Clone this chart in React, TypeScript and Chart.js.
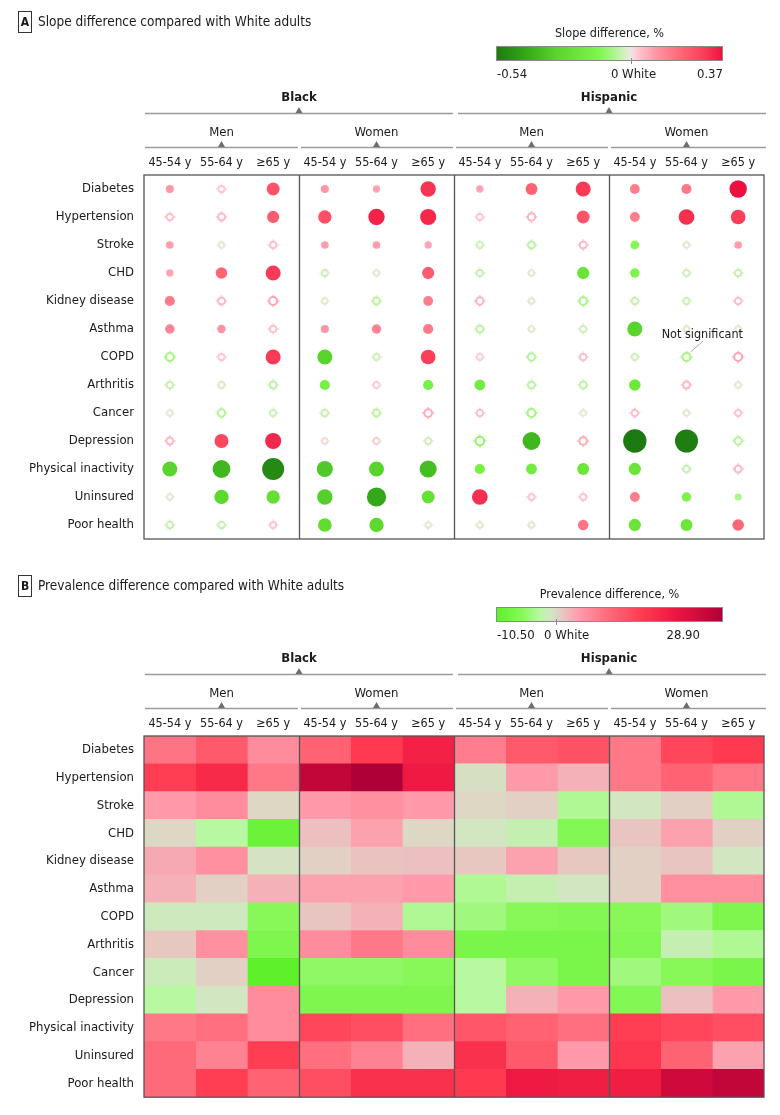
import React, { useEffect, useRef } from 'react';
import { Chart, registerables } from 'chart.js';

Chart.register(...registerables);

const FONT = "'DejaVu Sans Condensed', 'Liberation Sans Narrow', 'Roboto Condensed', Roboto, sans-serif";

const conditions = ['Diabetes', 'Hypertension', 'Stroke', 'CHD', 'Kidney disease', 'Asthma', 'COPD', 'Arthritis', 'Cancer', 'Depression', 'Physical inactivity', 'Uninsured', 'Poor health'];
const races = ['Black', 'Hispanic'];
const sexes = ['Men', 'Women', 'Men', 'Women'];
const ageGroups = ['45-54 y', '55-64 y', '≥65 y'];

// Panel A: slope difference (%), columns BM45, BM55, BM65, BW45, BW55, BW65, HM45, HM55, HM65, HW45, HW55, HW65
const slopeDiabetes = [0.10, 0.03, 0.24, 0.10, 0.08, 0.31, 0.08, 0.21, 0.30, 0.15, 0.16, 0.37];
const slopeHypertension = [0.04, 0.05, 0.22, 0.25, 0.34, 0.33, 0.03, 0.06, 0.24, 0.15, 0.32, 0.29];
const slopeStroke = [0.09, -0.01, 0.04, 0.09, 0.09, 0.08, -0.03, -0.05, 0.05, -0.12, -0.01, 0.09];
const slopeCHD = [0.08, 0.20, 0.30, -0.03, -0.01, 0.22, -0.04, -0.01, -0.22, -0.14, -0.03, -0.04];
const slopeKidney = [0.16, 0.05, 0.08, -0.01, -0.05, 0.15, 0.06, -0.01, -0.07, -0.04, -0.03, 0.04];
const slopeAsthma = [0.14, 0.11, 0.04, 0.10, 0.14, 0.16, -0.05, -0.01, -0.03, -0.30, -0.01, -0.01];
const slopeCOPD = [-0.08, 0.03, 0.30, -0.30, -0.03, 0.29, 0.02, -0.06, 0.04, -0.03, -0.08, 0.08];
const slopeArthritis = [-0.04, -0.02, -0.05, -0.16, 0.02, -0.16, -0.18, -0.05, -0.05, -0.20, 0.05, -0.01];
const slopeCancer = [-0.01, -0.06, -0.03, -0.04, -0.05, 0.07, 0.04, -0.08, -0.01, 0.04, -0.01, 0.03];
const slopeDepression = [0.05, 0.27, 0.33, 0.01, 0.02, -0.03, -0.10, -0.38, 0.07, -0.54, -0.53, -0.06];
const slopeInactivity = [-0.30, -0.38, -0.50, -0.33, -0.30, -0.36, -0.16, -0.18, -0.21, -0.22, -0.04, 0.05];
const slopeUninsured = [-0.01, -0.28, -0.25, -0.31, -0.42, -0.24, 0.32, 0.03, 0.03, 0.15, -0.14, -0.07];
const slopePoorHealth = [-0.04, -0.04, 0.03, -0.26, -0.28, -0.01, -0.01, -0.01, 0.17, -0.22, -0.21, 0.20];
const slopeRows = [slopeDiabetes, slopeHypertension, slopeStroke, slopeCHD, slopeKidney, slopeAsthma, slopeCOPD, slopeArthritis, slopeCancer, slopeDepression, slopeInactivity, slopeUninsured, slopePoorHealth];

// 1 = significant (filled), 0 = not significant (ring)
const sigDiabetes = [1, 0, 1, 1, 1, 1, 1, 1, 1, 1, 1, 1];
const sigHypertension = [0, 0, 1, 1, 1, 1, 0, 0, 1, 1, 1, 1];
const sigStroke = [1, 0, 0, 1, 1, 1, 0, 0, 0, 1, 0, 1];
const sigCHD = [1, 1, 1, 0, 0, 1, 0, 0, 1, 1, 0, 0];
const sigKidney = [1, 0, 0, 0, 0, 1, 0, 0, 0, 0, 0, 0];
const sigAsthma = [1, 1, 0, 1, 1, 1, 0, 0, 0, 1, 0, 0];
const sigCOPD = [0, 0, 1, 1, 0, 1, 0, 0, 0, 0, 0, 0];
const sigArthritis = [0, 0, 0, 1, 0, 1, 1, 0, 0, 1, 0, 0];
const sigCancer = [0, 0, 0, 0, 0, 0, 0, 0, 0, 0, 0, 0];
const sigDepression = [0, 1, 1, 0, 0, 0, 0, 1, 0, 1, 1, 0];
const sigInactivity = [1, 1, 1, 1, 1, 1, 1, 1, 1, 1, 0, 0];
const sigUninsured = [0, 1, 1, 1, 1, 1, 1, 0, 0, 1, 1, 1];
const sigPoorHealth = [0, 0, 0, 1, 1, 0, 0, 0, 1, 1, 1, 1];
const sigRows = [sigDiabetes, sigHypertension, sigStroke, sigCHD, sigKidney, sigAsthma, sigCOPD, sigArthritis, sigCancer, sigDepression, sigInactivity, sigUninsured, sigPoorHealth];

// Panel B: prevalence difference (%)
const prevDiabetes = [8, 11, 5.5, 10, 15, 19, 7, 11, 12, 7.5, 13.5, 15];
const prevHypertension = [14.5, 17.5, 7.5, 26.5, 28.9, 20, -0.5, 4, 2.5, 7.5, 10, 7.5];
const prevStroke = [4, 5.5, 0, 4, 5, 4, 0, 0.5, -3.5, -1, 0.5, -3.5];
const prevCHD = [0, -3, -9, 1.5, 3.5, 0, -1, -2, -6.5, 1.2, 3.5, 0.5];
const prevKidney = [3, 5, -0.8, 0.5, 1.3, 1.5, 1, 3.5, 1, 0.5, 1.2, -1];
const prevAsthma = [2.5, 0.5, 2.5, 3.5, 3.5, 4, -3.5, -2, -1, 0.5, 5, 5];
const prevCOPD = [-1.3, -1.3, -6, 1.2, 2.5, -3.5, -4.5, -6, -6.5, -6, -4.5, -7];
const prevArthritis = [1, 5, -7, 5.5, 7.5, 5.5, -7.5, -7.5, -7.5, -6.5, -2, -3.5];
const prevCancer = [-1.5, 0.5, -10.5, -5.5, -5.5, -6, -3, -5.5, -7.5, -4.5, -6, -7.5];
const prevDepression = [-3, -1, 5.5, -7, -7, -7, -3, 2.5, 4, -6.5, 1.5, 4];
const prevInactivity = [7.5, 8.5, 5.5, 13.5, 12.5, 8.5, 11.5, 10, 8.5, 14.5, 13.5, 12.5];
const prevUninsured = [9, 6.5, 14.5, 8.5, 6.5, 2.5, 16.5, 11, 4, 15.5, 10, 3.5];
const prevPoorHealth = [9, 14.5, 10, 12.5, 16.5, 16.5, 15, 20, 19.5, 19.5, 25, 26.5];
const prevRows = [prevDiabetes, prevHypertension, prevStroke, prevCHD, prevKidney, prevAsthma, prevCOPD, prevArthritis, prevCancer, prevDepression, prevInactivity, prevUninsured, prevPoorHealth];

const slopeMin = -0.54;
const slopeMax = 0.37;
const prevMin = -10.5;
const prevMax = 28.9;

type Stop = [number, string];
const slopeStops: Stop[] = [
  [-0.54, '#1d7a10'], [-0.42, '#34a818'], [-0.3, '#58d42c'], [-0.2, '#6ee83a'], [-0.12, '#80f850'],
  [-0.05, '#bdf3a4'], [0, '#ece8e0'], [0.03, '#ffc6d0'], [0.1, '#ff96a6'], [0.2, '#ff6676'], [0.3, '#fa3a56'], [0.37, '#ec1040'],
];
const prevStops: Stop[] = [
  [-10.5, '#5ef02a'], [-6, '#88f858'], [-3, '#b8f8a0'], [-1, '#d2e6c2'], [0, '#dcd8c4'], [1.5, '#ecc0c0'],
  [4, '#ff9aaa'], [9, '#ff6a7a'], [15, '#ff3a50'], [21, '#ec1440'], [28.9, '#b00038'],
];

function hexRgb(h: string) {
  return [parseInt(h.slice(1, 3), 16), parseInt(h.slice(3, 5), 16), parseInt(h.slice(5, 7), 16)];
}
function colorAt(stops: Stop[], v: number, alpha = 1) {
  let c = hexRgb(stops[0][1]);
  if (v >= stops[stops.length - 1][0]) c = hexRgb(stops[stops.length - 1][1]);
  else {
    for (let k = 1; k < stops.length; k++) {
      if (v <= stops[k][0]) {
        const a = hexRgb(stops[k - 1][1]);
        const b = hexRgb(stops[k][1]);
        const t = Math.max(0, Math.min(1, (v - stops[k - 1][0]) / (stops[k][0] - stops[k - 1][0])));
        c = [0, 1, 2].map((i) => Math.round(a[i] + (b[i] - a[i]) * t));
        break;
      }
    }
  }
  return `rgba(${c[0]},${c[1]},${c[2]},${alpha})`;
}
const radiusFor = (v: number) => 2.3 + 17.4 * Math.abs(v);

const TEXT = '#1a1a1a';
const LEG_L = 496;
const LEG_R = 723;

interface PanelCfg {
  letter: string;
  title: string;
  legendTitle: string;
  min: number;
  max: number;
  stops: Stop[];
  minLabel: string;
  maxLabel: string;
  maxLabelRight: number;
  zeroLabelLeft: number | null;
  titleY: number;
  note: boolean;
}

function tri(ctx: CanvasRenderingContext2D, cx: number, baseY: number) {
  ctx.beginPath();
  ctx.moveTo(cx - 3.5, baseY);
  ctx.lineTo(cx + 3.5, baseY);
  ctx.lineTo(cx, baseY - 6);
  ctx.closePath();
  ctx.fill();
}

function panelPlugin(cfg: PanelCfg) {
  return {
    id: 'panel' + cfg.letter,
    afterDatasetsDraw(chart: any) {
      const { ctx, chartArea: ca, scales } = chart;
      const x = scales.x;
      ctx.save();
      ctx.strokeStyle = '#555';
      ctx.lineWidth = 1.3;
      ctx.strokeRect(ca.left, ca.top, ca.right - ca.left, ca.bottom - ca.top);
      for (const k of [3, 6, 9]) {
        const px = Math.round(x.getPixelForValue(k)) + 0.5;
        ctx.beginPath();
        ctx.moveTo(px, ca.top);
        ctx.lineTo(px, ca.bottom);
        ctx.stroke();
      }
      ctx.restore();
    },
    afterDraw(chart: any) {
      const { ctx, scales } = chart;
      const x = scales.x;
      const y = scales.y;
      ctx.save();
      ctx.fillStyle = TEXT;
      ctx.textBaseline = 'middle';
      // panel letter + title
      ctx.strokeStyle = '#333';
      ctx.lineWidth = 1;
      ctx.strokeRect(18.5, cfg.titleY - 10.5, 13, 21);
      ctx.font = `bold 12px ${FONT}`;
      ctx.textAlign = 'center';
      ctx.fillText(cfg.letter, 25, cfg.titleY + 0.5);
      ctx.font = `13.5px ${FONT}`;
      ctx.textAlign = 'left';
      ctx.fillText(cfg.title, 38, cfg.titleY);

      // legend
      const barTop = 46;
      const barH = 15;
      const grad = ctx.createLinearGradient(LEG_L, 0, LEG_R, 0);
      for (const [v, c] of cfg.stops) grad.addColorStop((v - cfg.min) / (cfg.max - cfg.min), c);
      ctx.fillStyle = grad;
      ctx.fillRect(LEG_L, barTop, LEG_R - LEG_L, barH);
      ctx.strokeStyle = '#8a8a8a';
      ctx.strokeRect(LEG_L + 0.5, barTop + 0.5, LEG_R - LEG_L - 1, barH - 1);
      const zx = Math.round(LEG_L + ((0 - cfg.min) / (cfg.max - cfg.min)) * (LEG_R - LEG_L)) + 0.5;
      ctx.beginPath();
      ctx.moveTo(zx, barTop + barH - 3);
      ctx.lineTo(zx, barTop + barH + 3);
      ctx.stroke();
      ctx.fillStyle = TEXT;
      ctx.font = `12.5px ${FONT}`;
      ctx.textAlign = 'center';
      ctx.fillText(cfg.legendTitle, (LEG_L + LEG_R) / 2, 34);
      ctx.font = `13px ${FONT}`;
      ctx.textAlign = 'left';
      ctx.fillText(cfg.minLabel, LEG_L + 1, 75);
      if (cfg.zeroLabelLeft === null) {
        ctx.textAlign = 'center';
        ctx.fillText('0 White', zx + 2, 75);
      } else {
        ctx.textAlign = 'left';
        ctx.fillText('0 White', cfg.zeroLabelLeft, 75);
      }
      ctx.textAlign = 'right';
      ctx.fillText(cfg.maxLabel, cfg.maxLabelRight, 75);

      // race headers
      ctx.strokeStyle = '#9a9a9a';
      ctx.lineWidth = 1.3;
      races.forEach((r, g) => {
        const l = x.getPixelForValue(g * 6) + (g === 0 ? 1 : 4);
        const rr = x.getPixelForValue(g * 6 + 6) + (g === 1 ? 2 : -1);
        const cx = x.getPixelForValue(g * 6 + 3);
        ctx.fillStyle = TEXT;
        ctx.font = `bold 13px ${FONT}`;
        ctx.textAlign = 'center';
        ctx.fillText(r, cx, 98);
        ctx.beginPath();
        ctx.moveTo(l, 113.5);
        ctx.lineTo(rr, 113.5);
        ctx.stroke();
        ctx.fillStyle = '#6e6e6e';
        tri(ctx, cx, 113);
      });
      // sex headers
      sexes.forEach((s, k) => {
        const l = x.getPixelForValue(k * 3) + (k === 0 ? 1 : 2);
        const rr = x.getPixelForValue(k * 3 + 3) + (k === 3 ? 2 : -1);
        const cx = x.getPixelForValue(k * 3 + 1.5);
        ctx.fillStyle = TEXT;
        ctx.font = `13px ${FONT}`;
        ctx.textAlign = 'center';
        ctx.fillText(s, cx, 133);
        ctx.beginPath();
        ctx.moveTo(l, 147.5);
        ctx.lineTo(rr, 147.5);
        ctx.stroke();
        ctx.fillStyle = '#6e6e6e';
        tri(ctx, cx, 147);
      });
      // age labels
      ctx.fillStyle = TEXT;
      ctx.font = `12.5px ${FONT}`;
      ctx.textAlign = 'center';
      for (let j = 0; j < 12; j++) {
        ctx.fillText(ageGroups[j % 3], x.getPixelForValue(j + 0.5), 163);
      }

      if (cfg.note) {
        const px = x.getPixelForValue(10.5);
        const py = y.getPixelForValue(6);
        ctx.textAlign = 'right';
        ctx.font = `12.5px ${FONT}`;
        ctx.fillText('Not significant', 743, py - 22);
        ctx.strokeStyle = '#a8a8a8';
        ctx.lineWidth = 1;
        ctx.beginPath();
        ctx.moveTo(703, py - 16);
        ctx.lineTo(px + 4, py - 5);
        ctx.stroke();
      }
      ctx.restore();
    },
  };
}

const yAxis = {
  type: 'category' as const,
  labels: conditions,
  offset: true,
  grid: { display: false, drawTicks: false },
  border: { display: false },
  ticks: { color: TEXT, font: { family: FONT, size: 13 }, padding: 10, autoSkip: false },
  afterFit: (s: any) => {
    s.width = 144;
  },
};

function buildSlopeChart(canvas: HTMLCanvasElement) {
  const sigPts: any[] = [], sigR: number[] = [], sigC: string[] = [];
  const nsPts: any[] = [], nsR: number[] = [], nsC: string[] = [];
  const crR: number[] = [], crC: string[] = [];
  slopeRows.forEach((row, i) => {
    row.forEach((v, j) => {
      const pt = { x: j + 0.5, y: conditions[i] };
      if (sigRows[i][j]) {
        sigPts.push(pt);
        sigR.push(radiusFor(v));
        sigC.push(colorAt(slopeStops, v));
      } else {
        nsPts.push(pt);
        nsR.push(radiusFor(v) + 0.3);
        nsC.push(colorAt(slopeStops, v));
        crR.push(radiusFor(v) + 2.6);
        crC.push(colorAt(slopeStops, v, 0.75));
      }
    });
  });
  return new Chart(canvas, {
    type: 'scatter',
    data: {
      datasets: [
        { data: sigPts, pointRadius: sigR, pointBackgroundColor: sigC, pointBorderWidth: 0, pointStyle: 'circle', order: 0 },
        { data: nsPts, pointRadius: nsR, pointBackgroundColor: '#ffffff', pointBorderColor: nsC, pointBorderWidth: 2, pointStyle: 'circle', order: 1 },
        { data: nsPts, pointRadius: crR, pointBorderColor: crC, pointBackgroundColor: crC, pointBorderWidth: 1.6, pointStyle: 'cross', order: 2 },
      ],
    } as any,
    options: {
      responsive: false,
      animation: false,
      events: [],
      layout: { padding: { top: 175, bottom: 22, left: 0, right: 16 } },
      plugins: { legend: { display: false }, tooltip: { enabled: false } },
      scales: {
        x: { type: 'linear', min: 0, max: 12, display: false },
        y: yAxis as any,
      },
    },
    plugins: [
      panelPlugin({
        letter: 'A',
        title: 'Slope difference compared with White adults',
        legendTitle: 'Slope difference, %',
        min: slopeMin,
        max: slopeMax,
        stops: slopeStops,
        minLabel: '-0.54',
        maxLabel: '0.37',
        maxLabelRight: LEG_R,
        zeroLabelLeft: null,
        titleY: 22,
        note: true,
      }),
    ],
  });
}

function buildPrevChart(canvas: HTMLCanvasElement) {
  const datasets = Array.from({ length: 12 }, (_, j) => ({
    data: conditions.map(() => 1),
    backgroundColor: prevRows.map((row) => colorAt(prevStops, row[j])),
    borderWidth: 0,
    barPercentage: 1,
    categoryPercentage: 1,
  }));
  return new Chart(canvas, {
    type: 'bar',
    data: { labels: conditions, datasets },
    options: {
      indexAxis: 'y',
      responsive: false,
      animation: false,
      events: [],
      layout: { padding: { top: 175, bottom: 15, left: 0, right: 16 } },
      plugins: { legend: { display: false }, tooltip: { enabled: false } },
      scales: {
        x: { type: 'linear', stacked: true, min: 0, max: 12, display: false },
        y: { ...(yAxis as any), stacked: true },
      },
    },
    plugins: [
      panelPlugin({
        letter: 'B',
        title: 'Prevalence difference compared with White adults',
        legendTitle: 'Prevalence difference, %',
        min: prevMin,
        max: prevMax,
        stops: prevStops,
        minLabel: '-10.50',
        maxLabel: '28.90',
        maxLabelRight: 700,
        zeroLabelLeft: 544,
        titleY: 25,
        note: false,
      }),
    ],
  } as any);
}

export default function App() {
  const refA = useRef<HTMLCanvasElement>(null);
  const refB = useRef<HTMLCanvasElement>(null);
  useEffect(() => {
    const a = buildSlopeChart(refA.current!);
    const b = buildPrevChart(refB.current!);
    return () => {
      a.destroy();
      b.destroy();
    };
  }, []);
  return (
    <div style={{ position: 'absolute', left: 0, top: 0, width: 780, height: 1115, background: '#fff' }}>
      <canvas ref={refA} width={780} height={561} style={{ position: 'absolute', left: 0, top: 0, width: 780, height: 561 }} />
      <canvas ref={refB} width={780} height={554} style={{ position: 'absolute', left: 0, top: 561, width: 780, height: 554 }} />
    </div>
  );
}
